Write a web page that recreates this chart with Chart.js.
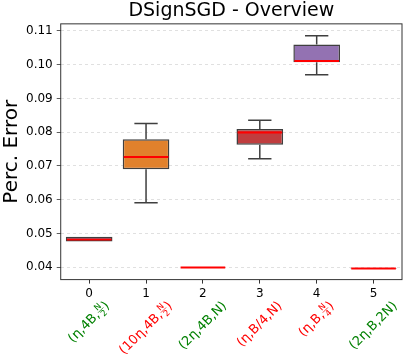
<!DOCTYPE html>
<html>
<head>
<meta charset="utf-8">
<script src="https://cdn.jsdelivr.net/npm/chart.js@4.4.0/dist/chart.umd.min.js"></script>
<style>
html, body { margin: 0; padding: 0; background: #fff; }
#wrap { width: 407px; height: 363px; }
</style>
</head>
<body>
<div id="wrap"><canvas id="myChart"></canvas></div>
<script>
// categories and the config label under each one ({N/2} = stacked fraction)
var categories = ['0', '1', '2', '3', '4', '5'];
var configLabels = ['(η,4B,{N/2})', '(10η,4B,{N/2})', '(2η,4B,N)', '(η,B/4,N)', '(η,B,{N/4})', '(2η,B,2N)'];
var labelColors = ['green', 'red', 'green', 'red', 'red', 'green'];

// box plot values
var whiskerLow  = [0.0476, 0.0591, 0.03985, 0.0721, 0.0970, 0.03955];
var q1          = [0.0476, 0.0690, 0.03985, 0.0763, 0.1007, 0.03955];
var medians     = [0.0482, 0.0726, 0.0399,  0.0799, 0.1011, 0.0396];
var q3          = [0.0490, 0.0779, 0.03995, 0.0809, 0.1060, 0.03965];
var whiskerHigh = [0.0490, 0.0826, 0.03995, 0.0835, 0.1086, 0.03965];

var boxColors = ['#3274a1', '#e1812c', '#3a923a', '#c03d3e', '#9372b2', '#845b53'];
var yMin = 0.0363, yMax = 0.1121, yStep = 0.01;

var boxPlugin = {
    id: 'boxParts',
    afterDatasetsDraw: function (chart) {
        var ctx = chart.ctx, y = chart.scales.y;
        var meta = chart.getDatasetMeta(0);
        ctx.save();
        meta.data.forEach(function (bar, i) {
            var cx = bar.x, half = bar.width / 2, cap = bar.width / 4;
            var yq1 = y.getPixelForValue(q1[i]), yq3 = y.getPixelForValue(q3[i]);
            var ylo = y.getPixelForValue(whiskerLow[i]), yhi = y.getPixelForValue(whiskerHigh[i]);
            ctx.strokeStyle = '#3f3f3f';
            ctx.lineWidth = 1.5;
            ctx.beginPath();
            if (whiskerHigh[i] > q3[i]) {
                ctx.moveTo(cx, yq3); ctx.lineTo(cx, yhi);
                ctx.moveTo(cx - cap, yhi); ctx.lineTo(cx + cap, yhi);
            }
            if (whiskerLow[i] < q1[i]) {
                ctx.moveTo(cx, yq1); ctx.lineTo(cx, ylo);
                ctx.moveTo(cx - cap, ylo); ctx.lineTo(cx + cap, ylo);
            }
            ctx.stroke();
            var ym = y.getPixelForValue(medians[i]);
            ctx.strokeStyle = '#ff0000';
            ctx.lineWidth = 2;
            ctx.beginPath();
            ctx.moveTo(cx - half + 1, ym); ctx.lineTo(cx + half - 1, ym);
            ctx.stroke();
        });
        ctx.restore();
    },
    afterDraw: function (chart) {
        var ctx = chart.ctx, a = chart.chartArea, x = chart.scales.x;
        ctx.save();
        // frame
        ctx.strokeStyle = '#333';
        ctx.lineWidth = 1;
        ctx.strokeRect(a.left, a.top, a.right - a.left, a.bottom - a.top);

        // rotated config labels
        var big = '13px "DejaVu Sans"', small = '8.5px "DejaVu Sans"';
        configLabels.forEach(function (lab, i) {
            var parts = lab.split(/\{([^}\/]*)\/([^}]*)\}/);
            var segs = [];
            for (var k = 0; k < parts.length; k += 3) {
                if (parts[k]) segs.push({ t: parts[k] });
                if (k + 1 < parts.length) segs.push({ num: parts[k + 1], den: parts[k + 2] });
            }
            var total = 0;
            segs.forEach(function (s) {
                if (s.t !== undefined) { ctx.font = big; s.w = ctx.measureText(s.t).width; }
                else { ctx.font = small; s.w = Math.max(ctx.measureText(s.num).width, ctx.measureText(s.den).width) + 2; }
                total += s.w;
            });
            var h = 15;
            var d = (total + h) / (2 * Math.SQRT2);
            ctx.save();
            ctx.translate(x.getPixelForValue(i), a.bottom + 19 + d);
            ctx.rotate(-Math.PI / 4);
            ctx.fillStyle = labelColors[i];
            ctx.strokeStyle = labelColors[i];
            ctx.textBaseline = 'middle';
            var px = -total / 2;
            segs.forEach(function (s) {
                if (s.t !== undefined) {
                    ctx.font = big; ctx.textAlign = 'left';
                    ctx.fillText(s.t, px, 0);
                } else {
                    ctx.font = small; ctx.textAlign = 'center';
                    ctx.fillText(s.num, px + s.w / 2, -4.5);
                    ctx.fillText(s.den, px + s.w / 2, 4.5);
                    ctx.lineWidth = 0.7;
                    ctx.beginPath();
                    ctx.moveTo(px + 0.5, -0.5); ctx.lineTo(px + s.w - 0.5, -0.5);
                    ctx.stroke();
                }
                px += s.w;
            });
            ctx.restore();
        });
        ctx.restore();
    }
};

var ctx = document.getElementById('myChart').getContext('2d');
var myChart = new Chart(ctx, {
    type: 'bar',
    data: {
        labels: categories,
        datasets: [{
            data: q1.map(function (v, i) { return [v, q3[i]]; }),
            backgroundColor: boxColors,
            borderColor: '#3f3f3f',
            borderWidth: 1.5,
            borderSkipped: false,
            categoryPercentage: 1,
            barPercentage: 0.82
        }]
    },
    options: {
        responsive: true,
        maintainAspectRatio: false,
        animation: false,
        layout: { padding: { left: 2, right: 5, top: 0, bottom: 59 } },
        plugins: {
            legend: { display: false },
            tooltip: { enabled: false },
            title: {
                display: true,
                text: 'DSignSGD - Overview',
                fullSize: false,
                color: '#000',
                font: { family: 'DejaVu Sans', size: 19, weight: 'normal', lineHeight: 1.15 },
                padding: { top: 0, bottom: 2 }
            }
        },
        scales: {
            x: {
                offset: true,
                grid: { offset: false, drawOnChartArea: false, drawTicks: true, tickLength: 4, tickColor: '#333' },
                border: { display: false },
                ticks: { color: '#000', padding: 3, maxRotation: 0, font: { family: 'DejaVu Sans', size: 12 } }
            },
            y: {
                min: yMin,
                max: yMax,
                grid: { color: '#d8d8d8', lineWidth: 0.8, borderDash: [3, 3], tickLength: 4, tickColor: '#333', tickBorderDash: [] },
                border: { display: false, dash: [3, 3] },
                ticks: {
                    stepSize: yStep,
                    includeBounds: false,
                    color: '#000',
                    padding: 4,
                    font: { family: 'DejaVu Sans', size: 12 },
                    callback: function (v) { return v.toFixed(2); }
                },
                title: {
                    display: true,
                    text: 'Perc. Error',
                    color: '#000',
                    font: { family: 'DejaVu Sans', size: 20, lineHeight: 1.0 },
                    padding: { top: 0, bottom: 0 }
                }
            }
        }
    },
    plugins: [boxPlugin]
});
</script>
</body>
</html>
